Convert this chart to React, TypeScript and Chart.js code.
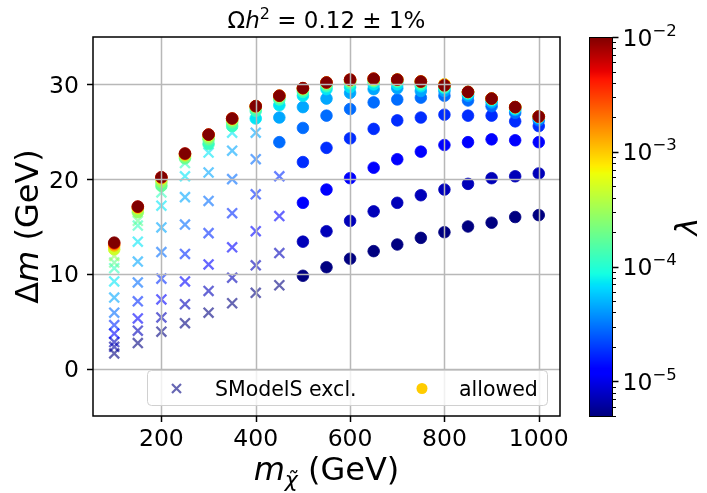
import React, { useEffect, useRef } from "react";
import { Chart, registerables } from "chart.js";

Chart.register(...registerables);

// ---------------- data ----------------
const MASSES = [100, 150, 200, 250, 300, 350, 400, 450, 500, 550, 600, 650, 700, 750, 800, 850, 900, 950, 1000];
const X_TICKS = [200, 400, 600, 800, 1000];
const Y_TICKS = [0, 10, 20, 30];

// lambda value of each scan level (lowest to highest)
const LAMBDA_LEVELS = [5.0e-6, 7.3e-6, 1.2e-5, 1.8e-5, 2.9e-5, 4.5e-5, 7.2e-5, 1.2e-4, 1.8e-4, 2.8e-4, 4.8e-4, 1.2e-3, 3.5e-3, 1.0e-2];

// Delta m (GeV) per level, one value per mass
const DM_L0 = [1.6, 2.7, 3.9, 4.8, 5.9, 6.9, 8.0, 8.8, 9.8, 10.7, 11.6, 12.4, 13.1, 13.8, 14.4, 15.0, 15.4, 16.0, 16.2];
const DM_L1 = [2.8, 4.0, 5.4, 6.8, 8.2, 9.6, 10.9, 12.2, 13.4, 14.5, 15.6, 16.6, 17.5, 18.3, 18.9, 19.5, 20.1, 20.3, 20.6];
const DM_L2 = [3.7, 5.3, 7.3, 9.2, 11.0, 12.8, 14.5, 16.1, 17.5, 18.9, 20.1, 21.2, 22.1, 22.9, 23.6, 23.9, 24.2, 24.1, 23.9];
const DM_L3 = [4.6, 7.1, 9.5, 12.1, 14.3, 16.4, 18.4, 20.3, 21.8, 23.3, 24.3, 25.3, 26.2, 26.5, 26.8, 26.7, 26.7, 26.1, 25.6];
const DM_L4 = [5.9, 9.1, 12.3, 15.2, 17.7, 20.0, 22.1, 23.9, 25.4, 26.7, 27.4, 28.1, 28.4, 28.6, 28.8, 28.3, 27.7, 27.0, 26.2];
const DM_L5 = [7.5, 11.3, 14.9, 18.1, 20.7, 23.0, 24.9, 26.5, 27.6, 28.5, 29.1, 29.5, 29.6, 29.3, 29.3, 28.8, 28.1, 27.3, 26.4];
const DM_L6 = [9.2, 13.4, 17.2, 20.3, 22.8, 24.9, 26.4, 27.8, 28.8, 29.5, 29.7, 30.0, 30.0, 29.8, 29.6, 29.0, 28.3, 27.4, 26.5];
const DM_L7 = [10.6, 15.1, 18.6, 21.7, 23.7, 25.6, 27.2, 28.4, 29.2, 29.8, 30.1, 30.3, 30.3, 30.0, 29.7, 29.1, 28.4, 27.5, 26.6];
const DM_L8 = [11.2, 15.6, 19.3, 22.2, 24.2, 26.0, 27.5, 28.6, 29.4, 30.0, 30.3, 30.4, 30.4, 30.2, 29.8, 29.2, 28.5, 27.6, 26.6];
const DM_L9 = [11.9, 16.5, 19.7, 22.4, 24.4, 26.2, 27.6, 28.7, 29.5, 30.1, 30.4, 30.5, 30.5, 30.3, 29.9, 29.2, 28.5, 27.6, 26.6];
const DM_L10 = [12.6, 16.9, 20.0, 22.6, 24.6, 26.3, 27.7, 28.8, 29.6, 30.2, 30.4, 30.5, 30.5, 30.3, 30.0, 29.2, 28.5, 27.6, 26.6];
const DM_L11 = [13.0, 17.0, 20.1, 22.6, 24.7, 26.4, 27.7, 28.8, 29.6, 30.2, 30.5, 30.6, 30.5, 30.3, 30.0, 29.2, 28.5, 27.6, 26.6];
const DM_L12 = [13.2, 17.1, 20.2, 22.7, 24.7, 26.4, 27.7, 28.8, 29.6, 30.2, 30.5, 30.6, 30.5, 30.3, 29.9, 29.2, 28.5, 27.6, 26.6];
const DM_L13 = [13.3, 17.1, 20.2, 22.7, 24.7, 26.4, 27.7, 28.8, 29.6, 30.2, 30.5, 30.6, 30.5, 30.3, 29.9, 29.2, 28.5, 27.6, 26.6];
const DM_LEVELS = [DM_L0, DM_L1, DM_L2, DM_L3, DM_L4, DM_L5, DM_L6, DM_L7, DM_L8, DM_L9, DM_L10, DM_L11, DM_L12, DM_L13];

// number of lowest levels excluded by SModelS, per mass
const EXCLUDED_LEVELS = [10, 9, 8, 8, 7, 7, 6, 4, 0, 0, 0, 0, 0, 0, 0, 0, 0, 0, 0];

// one additional excluded point
const EXTRA_MASS = [100];
const EXTRA_DM = [2.3];
const EXTRA_LAMBDA = [6.2e-6];

// colour bar range and ticks
const CB_MIN = 5.0e-6;
const CB_MAX = 1.0e-2;
const CB_MAJOR_EXP = [-5, -4, -3, -2];

const TITLE_MAIN = "Ω";
const TITLE_REST = " = 0.12 ± 1%";
const LEGEND_EXCL = "SModelS excl.";
const LEGEND_ALLOWED = "allowed";

// ---------------- style ----------------
const FONT = '"DejaVu Sans"';
const W = 707;
const H = 493;
const CA_LEFT = 93;
const CA_RIGHT = 560;
const CA_TOP = 37;
const CA_BOTTOM = 416;
const CB_LEFT = 589;
const CB_WIDTH = 23;

function jet(t: number): [number, number, number] {
  const seg = (pts: number[][], x: number) => {
    if (x <= pts[0][0]) return pts[0][1];
    for (let i = 1; i < pts.length; i++) {
      if (x <= pts[i][0]) {
        const [x0, y0] = pts[i - 1];
        const [x1, y1] = pts[i];
        return y0 + ((y1 - y0) * (x - x0)) / (x1 - x0);
      }
    }
    return pts[pts.length - 1][1];
  };
  const r = seg([[0, 0], [0.35, 0], [0.66, 1], [0.89, 1], [1, 0.5]], t);
  const g = seg([[0, 0], [0.125, 0], [0.375, 1], [0.64, 1], [0.91, 0], [1, 0]], t);
  const b = seg([[0, 0.5], [0.11, 1], [0.34, 1], [0.65, 0], [1, 0]], t);
  return [r * 255, g * 255, b * 255];
}
function lamT(l: number) {
  const t = (Math.log10(l) - Math.log10(CB_MIN)) / (Math.log10(CB_MAX) - Math.log10(CB_MIN));
  return Math.max(0, Math.min(1, t));
}
function lamColor(l: number, a = 1) {
  const [r, g, b] = jet(lamT(l));
  return `rgba(${Math.round(r)},${Math.round(g)},${Math.round(b)},${a})`;
}

type Part = { t: string; size: number; italic?: boolean; dy?: number };
function partsWidth(ctx: CanvasRenderingContext2D, parts: Part[]) {
  let w = 0;
  for (const p of parts) {
    ctx.font = `${p.italic ? "italic " : ""}${p.size}px ${FONT}`;
    w += ctx.measureText(p.t).width;
  }
  return w;
}
function drawParts(ctx: CanvasRenderingContext2D, parts: Part[], x: number, baseline: number, align: "left" | "center" | "right") {
  const w = partsWidth(ctx, parts);
  let cx = align === "left" ? x : align === "center" ? x - w / 2 : x - w;
  ctx.textAlign = "left";
  ctx.textBaseline = "alphabetic";
  ctx.fillStyle = "#000";
  for (const p of parts) {
    ctx.font = `${p.italic ? "italic " : ""}${p.size}px ${FONT}`;
    ctx.fillText(p.t, cx, baseline + (p.dy || 0));
    cx += ctx.measureText(p.t).width;
  }
}

const decorPlugin = {
  id: "decor",
  afterDatasetsDraw(chart: any) {
    const ctx: CanvasRenderingContext2D = chart.ctx;
    const ca = chart.chartArea;
    const xs = chart.scales.x;
    const ys = chart.scales.y;
    ctx.save();
    // grid (matplotlib draws it above the scatter)
    ctx.strokeStyle = "#b8b8b8";
    ctx.lineWidth = 1.5;
    for (const v of X_TICKS) {
      const p = Math.round(xs.getPixelForValue(v)) + 0.5;
      ctx.beginPath();
      ctx.moveTo(p, ca.top);
      ctx.lineTo(p, ca.bottom);
      ctx.stroke();
    }
    for (const v of Y_TICKS) {
      const p = Math.round(ys.getPixelForValue(v)) + 0.5;
      ctx.beginPath();
      ctx.moveTo(ca.left, p);
      ctx.lineTo(ca.right, p);
      ctx.stroke();
    }
    // frame
    ctx.strokeStyle = "#000";
    ctx.lineWidth = 1.5;
    ctx.strokeRect(ca.left, ca.top, ca.right - ca.left, ca.bottom - ca.top);
    // tick marks
    ctx.lineWidth = 1.5;
    for (const v of X_TICKS) {
      const p = Math.round(xs.getPixelForValue(v)) + 0.5;
      ctx.beginPath();
      ctx.moveTo(p, ca.bottom);
      ctx.lineTo(p, ca.bottom + 6);
      ctx.stroke();
    }
    for (const v of Y_TICKS) {
      const p = Math.round(ys.getPixelForValue(v)) + 0.5;
      ctx.beginPath();
      ctx.moveTo(ca.left, p);
      ctx.lineTo(ca.left - 6, p);
      ctx.stroke();
    }
    // tick labels
    for (const v of X_TICKS) {
      drawParts(ctx, [{ t: String(v), size: 23.5 }], xs.getPixelForValue(v), ca.bottom + 30, "center");
    }
    for (const v of Y_TICKS) {
      drawParts(ctx, [{ t: String(v), size: 23.5 }], ca.left - 14, ys.getPixelForValue(v) + 8.6, "right");
    }
    // legend
    const lx0 = 147, ly0 = 370, lx1 = 547, ly1 = 405;
    ctx.fillStyle = "rgba(255,255,255,0.8)";
    ctx.strokeStyle = "#d0d0d0";
    ctx.lineWidth = 1;
    ctx.beginPath();
    (ctx as any).roundRect(lx0 + 0.5, ly0 + 0.5, lx1 - lx0, ly1 - ly0, 4);
    ctx.fill();
    ctx.stroke();
    const my = (ly0 + ly1) / 2 + 1;
    ctx.strokeStyle = lamColor(CB_MIN, 0.6);
    ctx.lineWidth = 2.2;
    ctx.beginPath();
    ctx.moveTo(172, my - 4.5);
    ctx.lineTo(181, my + 4.5);
    ctx.moveTo(181, my - 4.5);
    ctx.lineTo(172, my + 4.5);
    ctx.stroke();
    ctx.fillStyle = "#ffcc00";
    ctx.beginPath();
    ctx.arc(422, my, 5.5, 0, Math.PI * 2);
    ctx.fill();
    drawParts(ctx, [{ t: LEGEND_EXCL, size: 20.5 }], 215, my + 7.3, "left");
    drawParts(ctx, [{ t: LEGEND_ALLOWED, size: 20.5 }], 459, my + 7.3, "left");
    ctx.restore();
  },
  afterDraw(chart: any) {
    const ctx: CanvasRenderingContext2D = chart.ctx;
    const ca = chart.chartArea;
    ctx.save();
    // title
    const cx = (ca.left + ca.right) / 2;
    drawParts(
      ctx,
      [
        { t: TITLE_MAIN, size: 23 },
        { t: "h", size: 23, italic: true },
        { t: "2", size: 16, dy: -9 },
        { t: TITLE_REST, size: 23 },
      ],
      cx,
      28,
      "center"
    );
    // x label
    drawParts(
      ctx,
      [
        { t: "m", size: 32, italic: true },
        { t: "\u03C7\u0303", size: 22, italic: true, dy: 7 },
        { t: " (GeV)", size: 32 },
      ],
      cx,
      480,
      "center"
    );
    // y label
    ctx.save();
    ctx.translate(38, (ca.top + ca.bottom) / 2);
    ctx.rotate(-Math.PI / 2);
    drawParts(
      ctx,
      [
        { t: "Δ", size: 32 },
        { t: "m", size: 32, italic: true },
        { t: " (GeV)", size: 32 },
      ],
      0,
      0,
      "center"
    );
    ctx.restore();
    // colour bar
    const top = ca.top;
    const bot = ca.bottom;
    const lmin = Math.log10(CB_MIN);
    const lmax = Math.log10(CB_MAX);
    const yOf = (l: number) => bot - ((Math.log10(l) - lmin) / (lmax - lmin)) * (bot - top);
    for (let y = top; y < bot; y++) {
      const t = (bot - (y + 0.5)) / (bot - top);
      const [r, g, b] = jet(t);
      ctx.fillStyle = `rgb(${Math.round(r)},${Math.round(g)},${Math.round(b)})`;
      ctx.fillRect(CB_LEFT, y, CB_WIDTH, 1);
    }
    ctx.strokeStyle = "#000";
    ctx.lineWidth = 1;
    ctx.strokeRect(CB_LEFT + 0.5, top + 0.5, CB_WIDTH, bot - top);
    const xr = CB_LEFT + CB_WIDTH + 0.5;
    for (let e = Math.floor(lmin); e <= Math.ceil(lmax); e++) {
      for (let m = 1; m <= 9; m++) {
        const v = m * Math.pow(10, e);
        if (v < CB_MIN * 0.999 || v > CB_MAX * 1.001) continue;
        const y = Math.round(yOf(v)) + 0.5;
        ctx.lineWidth = m === 1 ? 1.5 : 1;
        ctx.beginPath();
        ctx.moveTo(xr, y);
        ctx.lineTo(xr + (m === 1 ? 6 : 3.5), y);
        ctx.stroke();
      }
    }
    for (const e of CB_MAJOR_EXP) {
      const y = yOf(Math.pow(10, e));
      drawParts(
        ctx,
        [
          { t: "10", size: 23.5 },
          { t: "\u2212" + Math.abs(e), size: 16.5, dy: -10 },
        ],
        xr + 10,
        y + 8.6,
        "left"
      );
    }
    // colour bar label
    ctx.save();
    ctx.translate(697, (top + bot) / 2);
    ctx.rotate(-Math.PI / 2);
    drawParts(ctx, [{ t: "λ", size: 30, italic: true }], 0, 0, "center");
    ctx.restore();
    ctx.restore();
  },
};

type Pt = { x: number; y: number; lam: number };

export default function App() {
  const ref = useRef<HTMLCanvasElement | null>(null);
  useEffect(() => {
    document.body.style.margin = "0";
    const excluded: Pt[] = [];
    const allowed: Pt[] = [];
    for (let i = 0; i < EXTRA_MASS.length; i++) {
      excluded.push({ x: EXTRA_MASS[i], y: EXTRA_DM[i], lam: EXTRA_LAMBDA[i] });
    }
    DM_LEVELS.forEach((row, k) => {
      row.forEach((dm, i) => {
        const p = { x: MASSES[i], y: dm, lam: LAMBDA_LEVELS[k] };
        if (k < EXCLUDED_LEVELS[i]) excluded.push(p);
        else allowed.push(p);
      });
    });
    excluded.sort((a, b) => a.lam - b.lam);
    const chart = new Chart(ref.current as HTMLCanvasElement, {
      type: "scatter",
      data: {
        datasets: [
          {
            label: LEGEND_ALLOWED,
            data: allowed as any,
            order: 0,
            pointStyle: "circle",
            pointRadius: 5.8,
            pointBorderWidth: 0.8,
            pointBackgroundColor: (c: any) => lamColor(c.raw.lam),
            pointBorderColor: (c: any) => lamColor(c.raw.lam),
          } as any,
          {
            label: LEGEND_EXCL,
            data: excluded as any,
            order: 1,
            pointStyle: "crossRot",
            pointRadius: 7,
            pointBorderWidth: 2.3,
            pointBackgroundColor: (c: any) => lamColor(c.raw.lam, 0.6),
            pointBorderColor: (c: any) => lamColor(c.raw.lam, 0.6),
          } as any,
        ],
      },
      options: {
        responsive: false,
        animation: false,
        devicePixelRatio: 1,
        events: [],
        layout: { padding: { left: 0, right: W - CA_RIGHT, top: CA_TOP, bottom: 0 } },
        plugins: { legend: { display: false }, tooltip: { enabled: false }, title: { display: false } },
        scales: {
          x: {
            type: "linear",
            min: 55,
            max: 1045,
            grid: { display: false },
            border: { display: false },
            ticks: { display: false },
            afterBuildTicks: (s: any) => {
              s.ticks = X_TICKS.map((v) => ({ value: v }));
            },
            afterFit: (s: any) => {
              s.height = H - CA_BOTTOM;
            },
          },
          y: {
            type: "linear",
            min: -5,
            max: 35,
            grid: { display: false },
            border: { display: false },
            ticks: { display: false },
            afterBuildTicks: (s: any) => {
              s.ticks = Y_TICKS.map((v) => ({ value: v }));
            },
            afterFit: (s: any) => {
              s.width = CA_LEFT;
            },
          },
        },
      } as any,
      plugins: [decorPlugin],
    });
    return () => chart.destroy();
  }, []);
  return (
    <div style={{ width: W, height: H, background: "#fff" }}>
      <canvas ref={ref} width={W} height={H} style={{ width: W, height: H, display: "block" }} />
    </div>
  );
}
